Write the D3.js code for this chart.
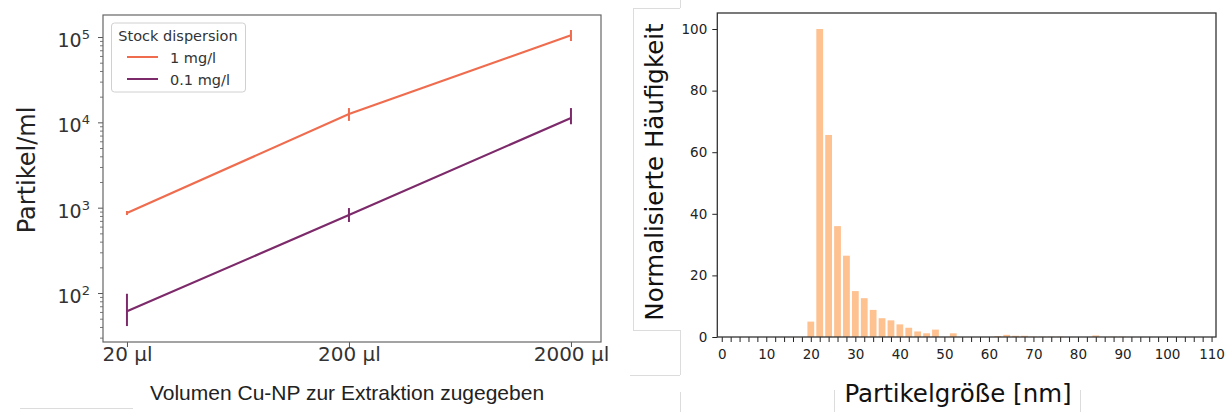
<!DOCTYPE html>
<html><head><meta charset="utf-8">
<script src="https://cdn.jsdelivr.net/npm/d3@7"></script>
<style>body{margin:0;background:#fff}svg{display:block}</style></head>
<body>
<svg id="c" width="1232" height="412"></svg>
<script>
// ---------- data: left chart ----------
const volumes = [20, 200, 2000];
const volumeLabels = ["20 µl", "200 µl", "2000 µl"];
const seriesNames = ["1 mg/l", "0.1 mg/l"];
const conc1 = [866, 12500, 105000];
const conc1Lo = [820, 10400, 89700];
const conc1Hi = [915, 14700, 120800];
const conc01 = [61, 820, 11250];
const conc01Lo = [41, 680, 9500];
const conc01Hi = [98, 990, 14700];
const yDecades = [100, 1000, 10000, 100000];
const yExponents = ["2", "3", "4", "5"];

// ---------- data: right chart ----------
const sizeBins = [20,22,24,26,28,30,32,34,36,38,40,42,44,46,48,50,52,54,56,58,60,62,64,66,68,70,72,74,76,78,80,82,84,86,88,90];
const sizeFreq = [5.0,100,65.6,36,26.4,14.9,12.6,8.8,6.1,5.4,4.1,3.0,1.8,1.2,2.4,0,1.2,0,0,0,0,0.3,0.7,0.4,0.4,0.1,0.1,0.1,0.1,0,0,0,0.5,0,0.1,0.1];
const sizeTicks = [0,10,20,30,40,50,60,70,80,90,100,110];
const freqTicks = [0,20,40,60,80,100];

const svg = d3.select("#c");
const FONT = "DejaVu Sans, sans-serif";

// ---------- faint artifact frames ----------
const art = svg.append("g").attr("stroke", "#dcdcdc").attr("stroke-width", 1).attr("fill", "none");
[[20,408.5,133,408.5],[633.5,8,633.5,330],[633,8.5,680,8.5],[680.5,0,680.5,8],[633,330.5,680,330.5],
 [680.5,330,680.5,375],[630,375.5,680,375.5],[680.5,392,680.5,412],[834.5,390,834.5,412],[1080.5,390,1080.5,412]]
 .forEach(l => art.append("line").attr("x1",l[0]).attr("y1",l[1]).attr("x2",l[2]).attr("y2",l[3]));

// ================= LEFT CHART =================
const L = {l:103, r:601, t:15, b:342};
const xL = d3.scaleLog().domain([15.6, 2731]).range([L.l, L.r]);
const yL = d3.scaleLog().domain([Math.pow(10,1.426), Math.pow(10,5.258)]).range([L.b, L.t]);
const gL = svg.append("g");

// minor y ticks
const minor = [];
for (let e = 1; e <= 5; e++) for (let m = 2; m <= 9; m++) {
  const v = m * Math.pow(10, e);
  if (v > yL.domain()[0] && v < yL.domain()[1]) minor.push(v);
}
const yMinor = gL.append("g").attr("transform", `translate(${L.l},0)`)
  .call(d3.axisLeft(yL).tickValues(minor).tickSize(3).tickSizeOuter(0).tickFormat(""));
yMinor.select(".domain").remove();
yMinor.selectAll("line").attr("stroke", "#555").attr("stroke-width", 0.8);

const yMajor = gL.append("g").attr("transform", `translate(${L.l},0)`)
  .call(d3.axisLeft(yL).tickValues(yDecades).tickSize(5).tickSizeOuter(0).tickFormat(""));
yMajor.select(".domain").remove();
yMajor.selectAll("line").attr("stroke", "#555").attr("stroke-width", 1);
yMajor.selectAll(".tick").each(function(d, i) {
  const t = d3.select(this).select("text")
    .attr("x", -13).attr("dy", "0.5em").attr("text-anchor", "end")
    .attr("font-family", FONT).attr("font-size", 19).attr("fill", "#333");
  t.append("tspan").text("10");
  t.append("tspan").attr("dy", "-0.62em").attr("font-size", 13).text(yExponents[i]);
});

const xAx = gL.append("g").attr("transform", `translate(0,${L.b})`)
  .call(d3.axisBottom(xL).tickValues(volumes).tickSize(5).tickSizeOuter(0).tickFormat((d,i)=>volumeLabels[i]));
xAx.select(".domain").remove();
xAx.selectAll("line").attr("stroke", "#555");
xAx.selectAll("text").attr("font-family", FONT).attr("font-size", 20).attr("fill", "#333")
  .attr("y", 0).attr("dy", 0).attr("transform", "translate(0,19)");

gL.append("rect").attr("x", L.l).attr("y", L.t).attr("width", L.r - L.l).attr("height", L.b - L.t)
  .attr("fill", "none").attr("stroke", "#666").attr("stroke-width", 1.2);

const colors = ["#ef6c4e", "#7d2a6b"];
const series = [
  {vals: conc1, lo: conc1Lo, hi: conc1Hi},
  {vals: conc01, lo: conc01Lo, hi: conc01Hi}
];
const line = d3.line().x((d,i)=>xL(volumes[i])).y(d=>yL(d));
series.forEach((s, k) => {
  gL.append("path").attr("d", line(s.vals)).attr("fill","none").attr("stroke", colors[k]).attr("stroke-width", 2.2);
  volumes.forEach((v, i) => {
    gL.append("line").attr("x1", xL(v)).attr("x2", xL(v)).attr("y1", yL(s.lo[i])).attr("y2", yL(s.hi[i]))
      .attr("stroke", colors[k]).attr("stroke-width", 2);
  });
});

// legend
const lg = gL.append("g");
lg.append("rect").attr("x", 111.5).attr("y", 23).attr("width", 134).attr("height", 69).attr("rx", 3)
  .attr("fill", "#fff").attr("fill-opacity", 0.85).attr("stroke", "#d0d0d0");
lg.append("text").attr("x", 178).attr("y", 41).attr("text-anchor","middle").attr("font-family", FONT).attr("font-size", 14.5).attr("fill","#333").text("Stock dispersion");
seriesNames.forEach((n, k) => {
  const yy = 57 + k * 22;
  lg.append("line").attr("x1", 127).attr("x2", 158).attr("y1", yy).attr("y2", yy).attr("stroke", colors[k]).attr("stroke-width", 2);
  lg.append("text").attr("x", 170).attr("y", yy + 5.5).attr("font-family", FONT).attr("font-size", 14.5).attr("fill","#333").text(n);
});

// axis titles
gL.append("text").attr("transform", "translate(35,170) rotate(-90)").attr("text-anchor","middle")
  .attr("font-family", FONT).attr("font-size", 24).attr("fill","#222").text("Partikel/ml");
gL.append("text").attr("x", 347).attr("y", 400).attr("text-anchor","middle")
  .attr("font-family", "Liberation Sans, Arial, sans-serif").attr("font-size", 21).attr("fill","#222")
  .text("Volumen Cu-NP zur Extraktion zugegeben");

// ================= RIGHT CHART =================
const R = {l:717.3, r:1216, t:13, b:337};
const xR = d3.scaleLinear().domain([-1, 111]).range([R.l, R.r]);
const yR = d3.scaleLinear().domain([0, 105.2]).range([R.b, R.t]);
const gR = svg.append("g");

gR.selectAll("rect.bar").data(sizeBins.map((b,i)=>({b, v:sizeFreq[i]})).filter(d=>d.v>0))
  .enter().append("rect").attr("class","bar")
  .attr("x", d => xR(d.b - 0.76)).attr("width", xR(1.52) - xR(0))
  .attr("y", d => yR(d.v)).attr("height", d => yR(0) - yR(d.v))
  .attr("fill", "#fec190");

const xMinorVals = d3.range(0, 111, 2);
const xRA = gR.append("g").attr("transform", `translate(0,${R.b})`)
  .call(d3.axisBottom(xR).tickValues(xMinorVals).tickSize(5).tickSizeOuter(0)
    .tickFormat(d => sizeTicks.includes(d) ? d : ""));
xRA.select(".domain").remove();
xRA.selectAll("line").attr("stroke", "#222");
xRA.selectAll("text").attr("font-family", FONT).attr("font-size", 13.5).attr("fill","#222").attr("y", 0).attr("dy", 0).attr("transform","translate(0,22)");

const yRA = gR.append("g").attr("transform", `translate(${R.l},0)`)
  .call(d3.axisLeft(yR).tickValues(freqTicks).tickSize(5).tickSizeOuter(0));
yRA.select(".domain").remove();
yRA.selectAll("line").attr("stroke", "#222");
yRA.selectAll("text").attr("font-family", FONT).attr("font-size", 13.5).attr("fill","#222").attr("x", -10);

gR.append("rect").attr("x", R.l).attr("y", R.t).attr("width", R.r - R.l).attr("height", R.b - R.t)
  .attr("fill", "none").attr("stroke", "#333").attr("stroke-width", 1.3);

gR.append("text").attr("transform", "translate(663,172) rotate(-90)").attr("text-anchor","middle")
  .attr("font-family", FONT).attr("font-size", 24.5).attr("fill","#111").text("Normalisierte Häufigkeit");
gR.append("text").attr("x", 958).attr("y", 402).attr("text-anchor","middle")
  .attr("font-family", FONT).attr("font-size", 24.5).attr("fill","#111").text("Partikelgröße [nm]");
</script>
</body></html>
